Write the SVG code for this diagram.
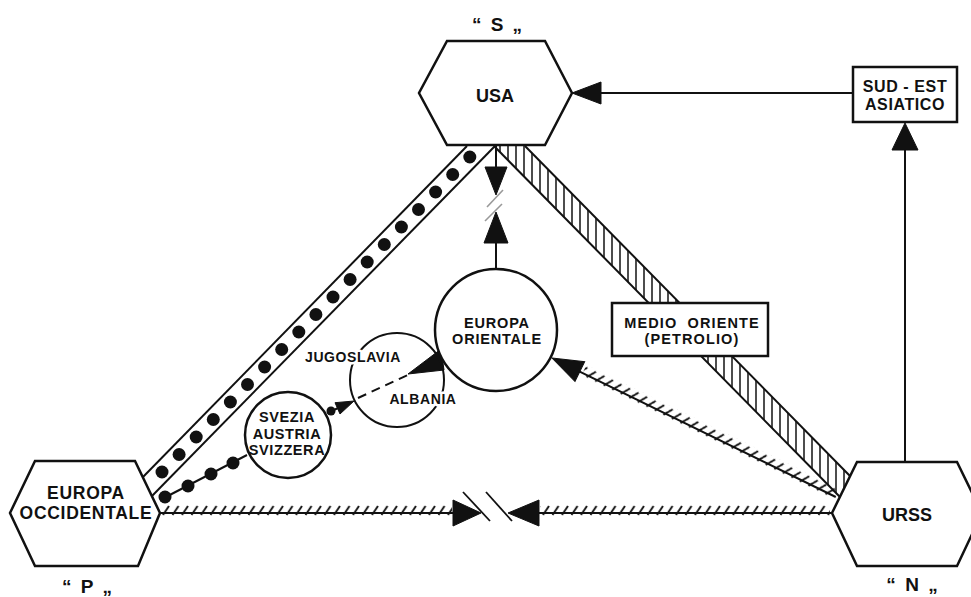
<svg xmlns="http://www.w3.org/2000/svg" width="971" height="597" viewBox="0 0 971 597">
<defs>
<style>
.ln{stroke:#111;stroke-width:2;fill:none}
.nd{fill:#fff;stroke:#111;stroke-width:2.5}
.ah{fill:#111;stroke:#111;stroke-width:1}
.dot{fill:#111}
.t{font-family:"Liberation Sans",Arial,Helvetica,sans-serif;font-weight:bold;fill:#111;text-anchor:middle}
.halo{stroke:#fff;stroke-width:5;paint-order:stroke;stroke-linejoin:round}
</style>
<pattern id="ticks" patternUnits="userSpaceOnUse" x="0" y="-9" width="9.5" height="12">
<line x1="1.5" y1="11" x2="7.5" y2="2" stroke="#111" stroke-width="1.9"/>
</pattern>
<pattern id="vhatch" patternUnits="userSpaceOnUse" x="0" y="0" width="8" height="10">
<line x1="4" y1="0" x2="4" y2="10" stroke="#111" stroke-width="1.5"/>
</pattern>
</defs>
<rect width="971" height="597" fill="#fff"/>

<g id="connectors">
<!-- hatched band USA - URSS -->
<polygon points="494,146 525,146 850,476 840,497" fill="url(#vhatch)" stroke="none"/>
<line class="ln" x1="494" y1="146" x2="840" y2="497"/>
<line class="ln" x1="525" y1="146" x2="850" y2="476"/>
<!-- dotted band USA - Europa occidentale -->
<line class="ln" x1="467" y1="146" x2="143" y2="477"/>
<line class="ln" x1="495" y1="146" x2="152" y2="496"/>
<g class="dot">
<circle cx="162" cy="472" r="6.5"/><circle cx="179.1" cy="454.5" r="6.5"/><circle cx="196.2" cy="437" r="6.5"/><circle cx="213.3" cy="419.5" r="6.5"/><circle cx="230.4" cy="402" r="6.5"/><circle cx="247.5" cy="384.5" r="6.5"/><circle cx="264.6" cy="367" r="6.5"/><circle cx="281.7" cy="349.5" r="6.5"/><circle cx="298.8" cy="332" r="6.5"/><circle cx="315.9" cy="314.5" r="6.5"/><circle cx="333" cy="297" r="6.5"/><circle cx="350.1" cy="279.5" r="6.5"/><circle cx="367.2" cy="262" r="6.5"/><circle cx="384.3" cy="244.5" r="6.5"/><circle cx="401.4" cy="227" r="6.5"/><circle cx="418.5" cy="209.5" r="6.5"/><circle cx="435.6" cy="192" r="6.5"/><circle cx="452.7" cy="174.5" r="6.5"/><circle cx="469.8" cy="157" r="6.5"/>
</g>
<!-- Sud-Est Asiatico -> USA -->
<line class="ln" x1="853" y1="93" x2="598" y2="93"/>
<polygon class="ah" points="572,93 601,82 601,104"/>
<!-- URSS -> Sud-Est Asiatico -->
<line class="ln" x1="905" y1="462" x2="905" y2="148"/>
<polygon class="ah" points="905,123 892,150 918,150"/>
<!-- USA <-> Europa orientale (interrupted) -->
<line class="ln" x1="496" y1="145" x2="496" y2="170"/>
<polygon class="ah" points="485,167 507,167 496,195"/>
<line x1="487" y1="207" x2="503" y2="190" stroke="#999" stroke-width="1.6"/>
<line x1="485" y1="221" x2="502" y2="204" stroke="#999" stroke-width="1.6"/>
<polygon class="ah" points="496,212 484,243 508,243"/>
<line class="ln" x1="496" y1="240" x2="496" y2="268"/>
<!-- Europa occidentale <-> URSS (interrupted) -->
<g transform="translate(0,513)">
<rect x="162" y="-9" width="290" height="12" fill="url(#ticks)"/>
<line class="ln" x1="160" y1="0" x2="456" y2="0"/>
<polygon class="ah" points="481,0 453,-13 453,13"/>
<rect x="540" y="-9" width="290" height="12" fill="url(#ticks)"/>
<line class="ln" x1="536" y1="0" x2="832" y2="0"/>
<polygon class="ah" points="508,0 539,-13 539,13"/>
<line x1="463" y1="-21" x2="490" y2="8" stroke="#111" stroke-width="1.8"/>
<line x1="486" y1="-21" x2="512" y2="8" stroke="#111" stroke-width="1.8"/>
</g>
<!-- URSS -> Europa orientale -->
<g transform="translate(552,358) rotate(26.1)">
<rect x="34" y="-9" width="280" height="12" fill="url(#ticks)"/>
<line class="ln" x1="28" y1="0" x2="316" y2="0"/>
<polygon class="ah" points="0,0 31,-11 31,11"/>
</g>
<!-- Europa occidentale -> Svezia chain -->
<line class="ln" x1="160" y1="500" x2="247" y2="455"/>
<g class="dot">
<circle cx="165" cy="497" r="6.5"/><circle cx="188" cy="486" r="6.5"/><circle cx="211" cy="474" r="6.5"/><circle cx="233" cy="463" r="6.5"/>
</g>
<!-- Svezia -> Jugoslavia -->
<line class="ln" x1="327" y1="413" x2="345" y2="405"/>
<circle class="dot" cx="331" cy="411" r="4.5"/>
<polygon class="ah" points="354,401 335,402.7 340,414"/>
<!-- Jugoslavia -> Europa orientale -->
<line class="ln" x1="358" y1="398" x2="410" y2="374" stroke-dasharray="9,6"/>
<polygon class="ah" points="408,374 444,370 441,349"/>
</g>

<g id="usa">
<polygon class="nd" points="447,41 545,41 572,93 545,145 447,145 419,93"/>
<text class="t" x="495" y="102" font-size="18">USA</text>
<text class="t" x="498" y="31" font-size="19" letter-spacing="2">“ S „</text>
</g>

<g id="sudest">
<rect class="nd" x="853" y="67" width="104" height="55" stroke-width="2"/>
<text class="t" x="905" y="92" font-size="16" letter-spacing="0.6">SUD - EST</text>
<text class="t" x="905" y="110" font-size="16" letter-spacing="0.6">ASIATICO</text>
</g>

<g id="europa-occidentale">
<polygon class="nd" points="35,461 135,461 160,513 138,566 35,566 10,513"/>
<text class="t" x="86" y="499" font-size="17.5" letter-spacing="0.7">EUROPA</text>
<text class="t" x="86" y="519" font-size="17.5" letter-spacing="0.7">OCCIDENTALE</text>
<text class="t" x="88" y="593" font-size="19" letter-spacing="2">“ P „</text>
</g>

<g id="urss">
<polygon class="nd" points="857,462 957,462 982,513 957,566 857,566 832,513"/>
<text class="t" x="907" y="521" font-size="18">URSS</text>
<text class="t" x="913" y="591" font-size="19" letter-spacing="2">“ N „</text>
</g>

<g id="europa-orientale">
<circle class="nd" cx="496" cy="330" r="61" stroke-width="2.2"/>
<text class="t" x="497" y="328" font-size="14.5" letter-spacing="0.8">EUROPA</text>
<text class="t" x="497" y="344" font-size="14.5" letter-spacing="0.8">ORIENTALE</text>
</g>

<g id="medio-oriente">
<rect class="nd" x="612" y="303" width="156" height="53" stroke-width="2"/>
<text class="t" x="692" y="328" font-size="14.5" letter-spacing="1.1" xml:space="preserve">MEDIO  ORIENTE</text>
<text class="t" x="692" y="344" font-size="14.5" letter-spacing="1.1">(PETROLIO)</text>
</g>

<g id="svezia">
<circle class="nd" cx="288" cy="435" r="43" stroke-width="2.2"/>
<text class="t" x="287" y="422" font-size="14.5" letter-spacing="0.6">SVEZIA</text>
<text class="t" x="287" y="439" font-size="14.5" letter-spacing="0.6">AUSTRIA</text>
<text class="t" x="287" y="455" font-size="14.5" letter-spacing="0.6">SVIZZERA</text>
</g>

<g id="jugoslavia-albania">
<circle cx="397" cy="380" r="47" fill="none" stroke="#111" stroke-width="2"/>
<text class="t halo" x="353" y="362" font-size="14" letter-spacing="0.6">JUGOSLAVIA</text>
<text class="t halo" x="423" y="404" font-size="14" letter-spacing="0.6">ALBANIA</text>
</g>
</svg>
